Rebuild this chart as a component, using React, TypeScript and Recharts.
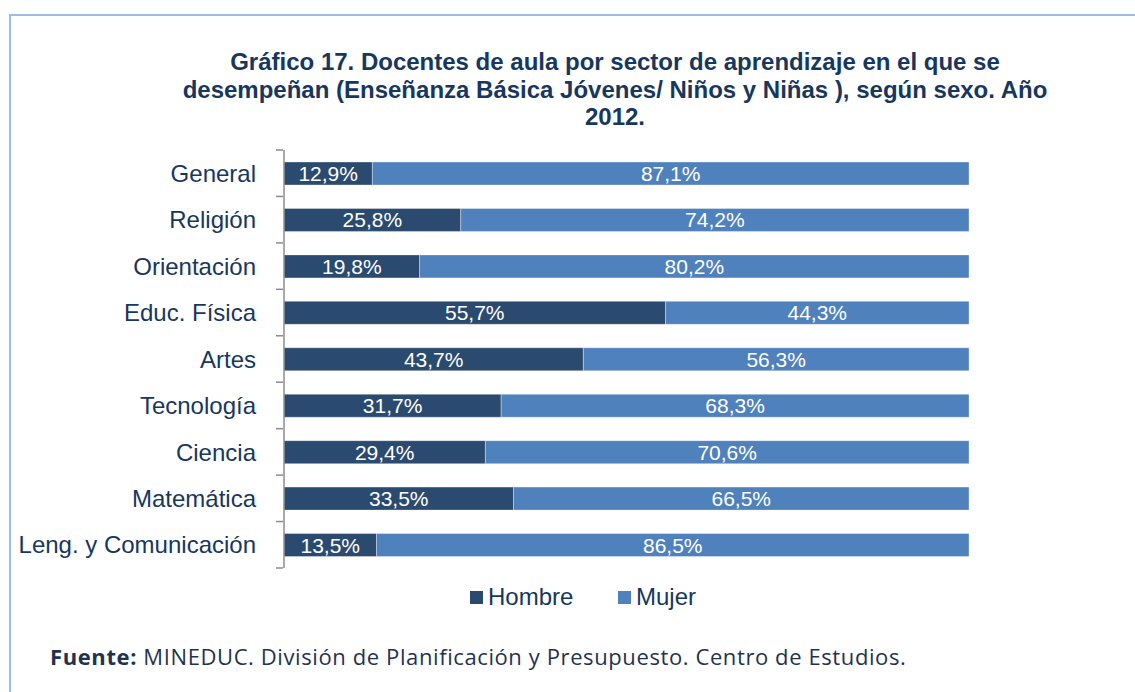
import { BarChart, Bar, XAxis, YAxis, LabelList } from "recharts";

const categories = [
  "General",
  "Religión",
  "Orientación",
  "Educ. Física",
  "Artes",
  "Tecnología",
  "Ciencia",
  "Matemática",
  "Leng. y Comunicación"
];
const hombre = [12.9, 25.8, 19.8, 55.7, 43.7, 31.7, 29.4, 33.5, 13.5];
const mujer = [87.1, 74.2, 80.2, 44.3, 56.3, 68.3, 70.6, 66.5, 86.5];
const seriesNames = ["Hombre", "Mujer"];

const data = categories.map((sector, i) => ({
  sector,
  Hombre: hombre[i],
  Mujer: mujer[i]
}));

const HOMBRE_COLOR = "#2b4a6f";
const MUJER_COLOR = "#4f81bd";
const TEXT_COLOR = "#17375e";
const AXIS_COLOR = "#8c8c8c";

const PLOT_TOP = 150;
const PLOT_BOTTOM = 568;
const PLOT_LEFT = 284;
const PLOT_RIGHT = 969;
const BAND = (PLOT_BOTTOM - PLOT_TOP) / categories.length;

const fmt = (v: any) => `${Number(v).toFixed(1).replace(".", ",")}%`;

function SectorTick(props: any) {
  const { y, payload, index } = props;
  const half = BAND / 2;
  const ax = PLOT_LEFT - 1;
  return (
    <g>
      <text
        x={PLOT_LEFT - 28}
        y={y}
        dy="0.36em"
        textAnchor="end"
        fill={TEXT_COLOR}
        fontSize={24}
      >
        {payload.value}
      </text>
      <line x1={ax - 7} x2={ax} y1={y - half} y2={y - half} stroke={AXIS_COLOR} strokeWidth={1.5} />
      {index === categories.length - 1 && (
        <line x1={ax - 7} x2={ax} y1={y + half} y2={y + half} stroke={AXIS_COLOR} strokeWidth={1.5} />
      )}
    </g>
  );
}

export default function App() {
  return (
    <div
      style={{
        position: "absolute",
        top: 0,
        left: 0,
        width: 1135,
        height: 692,
        background: "#fff",
        overflow: "hidden",
        fontFamily: "'Liberation Sans', Arial, sans-serif"
      }}
    >
      <div
        style={{
          position: "absolute",
          left: 9,
          top: 14,
          width: 1200,
          height: 800,
          borderTop: "2px solid #9dbde2",
          borderLeft: "2px solid #9dbde2"
        }}
      />
      <div
        style={{
          position: "absolute",
          top: 48,
          left: 115,
          width: 1000,
          textAlign: "center",
          fontWeight: "bold",
          fontSize: 24,
          lineHeight: "27.5px",
          color: TEXT_COLOR
        }}
      >
        Gráfico 17. Docentes de aula por sector de aprendizaje en el que se
        <br />
        desempeñan (Enseñanza Básica Jóvenes/ Niños y Niñas ), según sexo. Año
        <br />
        2012.
      </div>

      <div style={{ position: "absolute", top: 0, left: 0 }}>
        <BarChart
          width={1135}
          height={692}
          data={data}
          layout="vertical"
          margin={{ top: PLOT_TOP, right: 1135 - PLOT_RIGHT, bottom: 692 - PLOT_BOTTOM, left: 0 }}
        >
          <XAxis type="number" domain={[0, 100]} hide />
          <YAxis
            type="category"
            dataKey="sector"
            width={PLOT_LEFT}
            axisLine={{ stroke: AXIS_COLOR, strokeWidth: 1.5 }}
            tickLine={false}
            tick={<SectorTick />}
            interval={0}
          />
          <Bar
            dataKey="Hombre"
            stackId="a"
            fill={HOMBRE_COLOR}
            barSize={23}
            stroke="rgba(255,255,255,0.35)"
            strokeWidth={1}
            isAnimationActive={false}
          >
            <LabelList dataKey="Hombre" position="center" formatter={fmt} fill="#fff" fontSize={21} />
          </Bar>
          <Bar
            dataKey="Mujer"
            stackId="a"
            fill={MUJER_COLOR}
            barSize={23}
            stroke="rgba(255,255,255,0.35)"
            strokeWidth={1}
            isAnimationActive={false}
          >
            <LabelList dataKey="Mujer" position="center" formatter={fmt} fill="#fff" fontSize={21} />
          </Bar>
        </BarChart>
      </div>

      {seriesNames.map((name, i) => (
        <div
          key={name}
          style={{
            position: "absolute",
            top: 583,
            left: i === 0 ? 470 : 618,
            display: "flex",
            alignItems: "center",
            fontSize: 24,
            lineHeight: "28px",
            color: TEXT_COLOR
          }}
        >
          <span
            style={{
              display: "inline-block",
              width: 13,
              height: 13,
              background: i === 0 ? HOMBRE_COLOR : MUJER_COLOR,
              marginRight: 5
            }}
          />
          {name}
        </div>
      ))}

      <div
        style={{
          position: "absolute",
          top: 642,
          left: 50,
          fontFamily: "'Open Sans', sans-serif",
          fontSize: 22,
          letterSpacing: "0.6px",
          lineHeight: "28px",
          color: "#1f3350",
          whiteSpace: "nowrap"
        }}
      >
        <b>Fuente:</b> MINEDUC. División de Planificación y Presupuesto. Centro de Estudios.
      </div>
    </div>
  );
}
